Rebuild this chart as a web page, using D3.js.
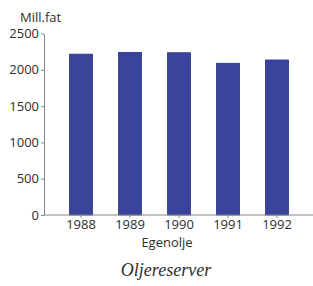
<!DOCTYPE html>
<html>
<head>
<meta charset="utf-8">
<script src="https://cdn.jsdelivr.net/npm/d3@7"></script>
<style>
  body { margin: 0; background: #fff; }
  svg text { font-family: "Open Sans", sans-serif; fill: #2e2e2e; }
  .title { font-family: "Liberation Serif", serif; font-style: italic; }
</style>
</head>
<body>
<div id="chart"></div>
<script>
var years = ['1988', '1989', '1990', '1991', '1992'];
var reserves = [2215, 2240, 2235, 2090, 2135];
var yTicks = [0, 500, 1000, 1500, 2000, 2500];

var width = 313, height = 286;
var svg = d3.select('#chart').append('svg')
  .attr('width', width)
  .attr('height', height);

var x = d3.scaleBand()
  .domain(years)
  .range([45, 313])
  .paddingInner(0.53)
  .paddingOuter(0.5);

var y = d3.scaleLinear()
  .domain([0, 2500])
  .range([215, 33.5]);

// bars
svg.selectAll('rect.bar')
  .data(reserves)
  .enter().append('rect')
  .attr('class', 'bar')
  .attr('x', function (d, i) { return x(years[i]); })
  .attr('y', function (d) { return y(d); })
  .attr('width', x.bandwidth())
  .attr('height', function (d) { return y(0) - y(d); })
  .attr('fill', '#3a449d')
  .attr('stroke', '#2a3280')
  .attr('stroke-width', 0.8);

// y axis
var yAxis = svg.append('g')
  .attr('transform', 'translate(44,0)')
  .call(d3.axisLeft(y).tickValues(yTicks).tickSize(3).tickSizeOuter(0).tickPadding(2).tickFormat(d3.format('d')));
yAxis.selectAll('text').style('font-size', '13px');

// x axis
var xAxis = svg.append('g')
  .attr('transform', 'translate(0,215)')
  .call(d3.axisBottom(x).tickSize(3).tickSizeOuter(0).tickPadding(2));
xAxis.selectAll('text').style('font-size', '13px');
xAxis.select('.domain').attr('d', 'M44,0H313');

svg.selectAll('.domain, .tick line').attr('stroke', '#888');

// labels
svg.append('text')
  .attr('x', 20)
  .attr('y', 22)
  .style('font-size', '13px')
  .text('Mill.fat');

svg.append('text')
  .attr('x', 167)
  .attr('y', 247)
  .attr('text-anchor', 'middle')
  .style('font-size', '13px')
  .text('Egenolje');

svg.append('text')
  .attr('class', 'title')
  .attr('x', 166)
  .attr('y', 276)
  .attr('text-anchor', 'middle')
  .style('font-size', '18px')
  .text('Oljereserver');
</script>
</body>
</html>
